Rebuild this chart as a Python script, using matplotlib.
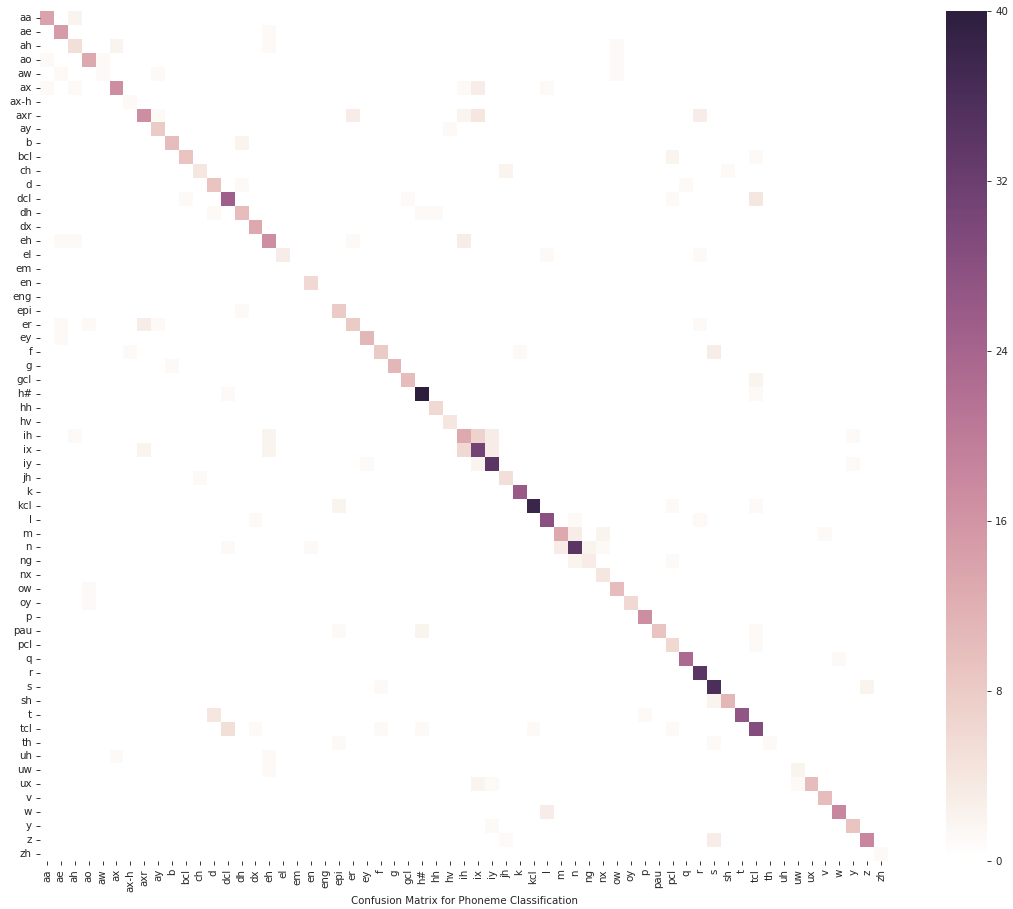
import matplotlib
matplotlib.use("Agg")
import matplotlib.pyplot as plt
import numpy as np
import seaborn as sns


# -----
# DATA
# -----
phonemes = ["aa", "ae", "ah", "ao", "aw", "ax", "ax-h", "axr", "ay", "b", "bcl", "ch", "d", "dcl", "dh", "dx",
            "eh", "el", "em", "en", "eng", "epi", "er", "ey", "f", "g", "gcl", "h#", "hh", "hv", "ih", "ix",
            "iy", "jh", "k", "kcl", "l", "m", "n", "ng", "nx", "ow", "oy", "p", "pau", "pcl", "q", "r", "s",
            "sh", "t", "tcl", "th", "uh", "uw", "ux", "v", "w", "y", "z", "zh"]

# correct predictions, same order as phonemes
diagonal = [14, 15, 5, 13, 1, 17, 1, 17, 8, 10, 9, 4, 9, 25, 10, 13,
            17, 3, 0, 6, 0, 8, 8, 11, 8, 11, 10, 40, 6, 4, 13, 31,
            34, 5, 26, 38, 28, 13, 34, 3, 4, 10, 6, 17, 9, 6, 23, 34, 36,
            11, 27, 29, 1, 0, 2, 10, 10, 18, 9, 18, 1]

# mistakes: true phoneme, predicted phoneme, count
confusions = [
    ("aa", "ah", 2), ("ae", "eh", 1), ("ah", "ax", 2), ("ah", "eh", 1), ("ah", "ow", 1),
    ("ao", "aa", 1), ("ao", "aw", 1), ("ao", "ow", 1), ("aw", "ae", 1), ("aw", "ay", 1), ("aw", "ow", 1),
    ("ax", "aa", 1), ("ax", "ah", 1), ("ax", "ih", 1), ("ax", "ix", 3), ("ax", "l", 1),
    ("axr", "ay", 1), ("axr", "er", 3), ("axr", "ih", 2), ("axr", "ix", 4), ("axr", "r", 3),
    ("ay", "hv", 1), ("b", "dh", 2), ("bcl", "pcl", 2), ("bcl", "tcl", 1),
    ("ch", "jh", 2), ("ch", "sh", 1), ("d", "dh", 1), ("d", "q", 1),
    ("dcl", "bcl", 1), ("dcl", "gcl", 1), ("dcl", "pcl", 1), ("dcl", "tcl", 4),
    ("dh", "d", 1), ("dh", "h#", 1), ("dh", "hh", 1),
    ("eh", "ae", 1), ("eh", "ah", 1), ("eh", "er", 1), ("eh", "ih", 3), ("el", "l", 1), ("el", "r", 1),
    ("epi", "dh", 1), ("er", "ae", 1), ("er", "ao", 1), ("er", "axr", 3), ("er", "ay", 1), ("er", "r", 1),
    ("ey", "ae", 1), ("f", "ax-h", 1), ("f", "k", 1), ("f", "s", 3), ("g", "b", 1), ("gcl", "tcl", 2),
    ("h#", "dcl", 1), ("h#", "tcl", 1),
    ("ih", "ah", 1), ("ih", "eh", 2), ("ih", "ix", 7), ("ih", "iy", 3), ("ih", "y", 1),
    ("ix", "axr", 2), ("ix", "eh", 2), ("ix", "ih", 6), ("ix", "iy", 3),
    ("iy", "ey", 1), ("iy", "ix", 2), ("iy", "y", 1), ("jh", "ch", 1),
    ("kcl", "epi", 2), ("kcl", "pcl", 1), ("kcl", "tcl", 1), ("l", "dx", 1), ("l", "n", 1), ("l", "r", 1),
    ("m", "n", 3), ("m", "nx", 2), ("m", "v", 1),
    ("n", "dcl", 1), ("n", "en", 1), ("n", "m", 3), ("n", "ng", 2), ("n", "nx", 1),
    ("ng", "n", 2), ("ng", "pcl", 1), ("ow", "ao", 1), ("oy", "ao", 1),
    ("pau", "epi", 1), ("pau", "h#", 2), ("pau", "tcl", 1), ("pcl", "tcl", 1), ("q", "w", 1),
    ("s", "f", 1), ("s", "z", 2), ("sh", "s", 2), ("t", "d", 4), ("t", "p", 1),
    ("tcl", "dcl", 5), ("tcl", "dx", 1), ("tcl", "f", 1), ("tcl", "h#", 1), ("tcl", "kcl", 1), ("tcl", "pcl", 1),
    ("th", "epi", 1), ("th", "s", 1), ("uh", "ax", 1), ("uh", "eh", 1), ("uw", "eh", 1),
    ("ux", "ix", 2), ("ux", "iy", 1), ("ux", "uw", 1), ("w", "l", 3), ("y", "iy", 1),
    ("z", "jh", 1), ("z", "s", 3),
]

matrix = np.diag(np.array(diagonal, dtype=float))
for true_name, pred_name, count in confusions:
    matrix[phonemes.index(true_name), phonemes.index(pred_name)] = count


# ------
# CHART
# ------
fig = plt.figure(figsize=(10.13, 9.09), dpi=100)
ax = fig.add_axes([40 / 1013, 48 / 909, 848 / 1013, 850 / 909])
cbar_ax = fig.add_axes([946 / 1013, 48 / 909, 41 / 1013, 850 / 909])

cmap = sns.cubehelix_palette(light=1, as_cmap=True)
sns.heatmap(matrix, ax=ax, cbar_ax=cbar_ax, cmap=cmap, vmin=0, vmax=40,
            xticklabels=phonemes, yticklabels=phonemes)

text_color = "#262626"
ax.set_xlabel("Confusion Matrix for Phoneme Classification", fontsize=7.4, color=text_color, labelpad=3)
ax.tick_params(axis="both", labelsize=7.4, length=2.9, width=0.65, pad=2.9, colors=text_color)
ax.tick_params(axis="x", labelrotation=90)
ax.tick_params(axis="y", labelrotation=0)
cbar_ax.tick_params(labelsize=7.4, length=2.9, width=0.65, pad=2.9, colors=text_color)
cbar_ax.set_yticks([0, 8, 16, 24, 32, 40])

fig.savefig("out.png", dpi=100)
plt.close(fig)
